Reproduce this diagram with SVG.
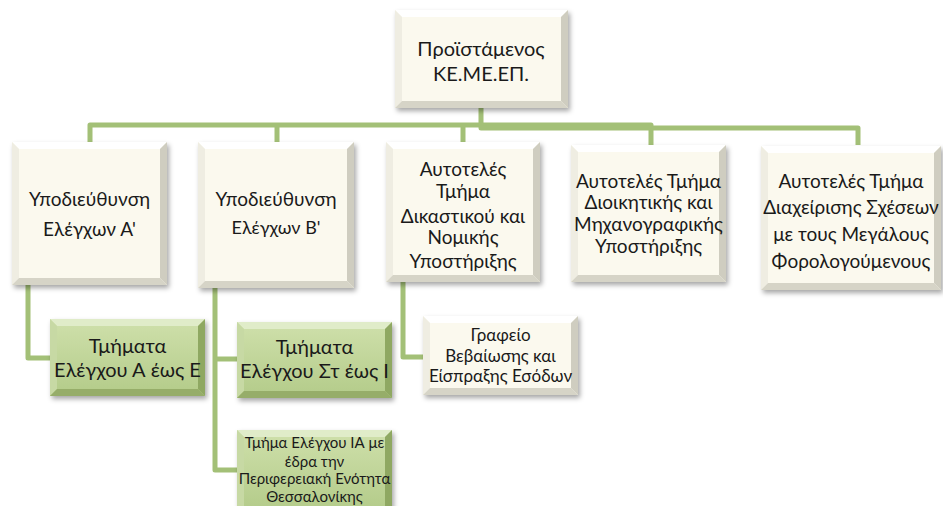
<svg xmlns="http://www.w3.org/2000/svg" width="943" height="506" viewBox="0 0 943 506">
<defs>
<filter id="sh" x="-20%" y="-20%" width="140%" height="140%">
<feDropShadow dx="2" dy="3" stdDeviation="2.5" flood-color="#000" flood-opacity="0.35"/>
</filter>
<linearGradient id="gg" x1="0" y1="0" x2="0" y2="1">
<stop offset="0" stop-color="#cfe0ab"/>
<stop offset="1" stop-color="#b3cb89"/>
</linearGradient>
<style>
.conn{fill:none;stroke:#a3c077;stroke-width:5;stroke-linejoin:round}
.cf{fill:#fbf9ee}
.gf{fill:url(#gg)}
.ct{fill:#ffffff}
.cl{fill:#efede2}
.cr{fill:#cfcdc0}
.cb{fill:#d6d4c7}
.gt{fill:#e0ecc9}
.gl{fill:#c7d9a4}
.gr{fill:#8fa862}
.gb{fill:#96ad69}
text{font-family:Lato,"Noto Sans",sans-serif;fill:#1a1a1a;text-anchor:middle}
.f18{font-size:20px}
.f17{font-size:19px}
.f16{font-size:18px}
.f19{font-size:19px}
.f20{font-size:20px}
.f14{font-size:17px}
.f12{font-size:15px}
</style>
</defs>
<g id="connectors">
<path class="conn" d="M90,142 V125 H651 V145"/>
<path class="conn" d="M481,108 V128 H858 V145"/>
<path class="conn" d="M277,125 V142"/>
<path class="conn" d="M463,125 V142"/>
<path class="conn" d="M28,285 V358 H50"/>
<path class="conn" d="M215,288 V470 H237"/>
<path class="conn" d="M215,359 H237"/>
<path class="conn" d="M403,282 V357 H423"/>
</g>
<g id="n0">
<rect class="cf" x="395" y="10" width="173" height="98" filter="url(#sh)"/>
<polygon class="ct" points="395,10 568,10 561,17 402,17"/>
<polygon class="cl" points="395,10 402,17 402,101 395,108"/>
<polygon class="cr" points="568,10 568,108 561,101 561,17"/>
<polygon class="cb" points="395,108 568,108 561,101 402,101"/>
<text class="f18" x="481" y="56">Προϊστάμενος</text>
<text class="f18" x="481" y="81">ΚΕ.ΜΕ.ΕΠ.</text>
</g>
<g id="n1">
<rect class="cf" x="12" y="142" width="155" height="143" filter="url(#sh)"/>
<polygon class="ct" points="12,142 167,142 160,149 19,149"/>
<polygon class="cl" points="12,142 19,149 19,278 12,285"/>
<polygon class="cr" points="167,142 167,285 160,278 160,149"/>
<polygon class="cb" points="12,285 167,285 160,278 19,278"/>
<text class="f17" x="89.5" y="206">Υποδιεύθυνση</text>
<text class="f17" x="89.5" y="236">Ελέγχων Α'</text>
</g>
<g id="n2">
<rect class="cf" x="198" y="142" width="156" height="146" filter="url(#sh)"/>
<polygon class="ct" points="198,142 354,142 347,149 205,149"/>
<polygon class="cl" points="198,142 205,149 205,281 198,288"/>
<polygon class="cr" points="354,142 354,288 347,281 347,149"/>
<polygon class="cb" points="198,288 354,288 347,281 205,281"/>
<text class="f17" x="276" y="206">Υποδιεύθυνση</text>
<text class="f16" x="276" y="234">Ελέγχων Β'</text>
</g>
<g id="n3">
<rect class="cf" x="386" y="142" width="154" height="140" filter="url(#sh)"/>
<polygon class="ct" points="386,142 540,142 533,149 393,149"/>
<polygon class="cl" points="386,142 393,149 393,275 386,282"/>
<polygon class="cr" points="540,142 540,282 533,275 533,149"/>
<polygon class="cb" points="386,282 540,282 533,275 393,275"/>
<text class="f17" x="463" y="176">Αυτοτελές</text>
<text class="f17" x="463" y="198">Τμήμα</text>
<text class="f17" x="463" y="223">Δικαστικού και</text>
<text class="f17" x="463" y="244">Νομικής</text>
<text class="f17" x="463" y="268">Υποστήριξης</text>
</g>
<g id="n4">
<rect class="cf" x="571" y="145" width="155" height="137" filter="url(#sh)"/>
<polygon class="ct" points="571,145 726,145 719,152 578,152"/>
<polygon class="cl" points="571,145 578,152 578,275 571,282"/>
<polygon class="cr" points="726,145 726,282 719,275 719,152"/>
<polygon class="cb" points="571,282 726,282 719,275 578,275"/>
<text class="f19" x="648.5" y="188">Αυτοτελές Τμήμα</text>
<text class="f19" x="648.5" y="209">Διοικητικής και</text>
<text class="f19" x="648.5" y="231">Μηχανογραφικής</text>
<text class="f19" x="648.5" y="253">Υποστήριξης</text>
</g>
<g id="n5">
<rect class="cf" x="761" y="146" width="180" height="144" filter="url(#sh)"/>
<polygon class="ct" points="761,146 941,146 934,153 768,153"/>
<polygon class="cl" points="761,146 768,153 768,283 761,290"/>
<polygon class="cr" points="941,146 941,290 934,283 934,153"/>
<polygon class="cb" points="761,290 941,290 934,283 768,283"/>
<text class="f17" x="851" y="188">Αυτοτελές Τμήμα</text>
<text class="f17" x="851" y="214">Διαχείρισης Σχέσεων</text>
<text class="f17" x="851" y="241">με τους Μεγάλους</text>
<text class="f17" x="851" y="268">Φορολογούμενους</text>
</g>
<g id="g1">
<rect class="gf" x="50" y="319" width="155" height="77" filter="url(#sh)"/>
<polygon class="gt" points="50,319 205,319 198,326 57,326"/>
<polygon class="gl" points="50,319 57,326 57,389 50,396"/>
<polygon class="gr" points="205,319 205,396 198,389 198,326"/>
<polygon class="gb" points="50,396 205,396 198,389 57,389"/>
<text class="f20" x="127.5" y="353">Τμήματα</text>
<text class="f20" x="127.5" y="377">Ελέγχου Α έως Ε</text>
</g>
<g id="g2">
<rect class="gf" x="237" y="322" width="155" height="76" filter="url(#sh)"/>
<polygon class="gt" points="237,322 392,322 385,329 244,329"/>
<polygon class="gl" points="237,322 244,329 244,391 237,398"/>
<polygon class="gr" points="392,322 392,398 385,391 385,329"/>
<polygon class="gb" points="237,398 392,398 385,391 244,391"/>
<text class="f20" x="314.5" y="354">Τμήματα</text>
<text class="f20" x="314.5" y="378">Ελέγχου Στ έως Ι</text>
</g>
<g id="g3">
<rect class="gf" x="237" y="430" width="155" height="82" filter="url(#sh)"/>
<polygon class="gt" points="237,430 392,430 385,437 244,437"/>
<polygon class="gl" points="237,430 244,437 244,512 237,512"/>
<polygon class="gr" points="392,430 392,512 385,512 385,437"/>
<text class="f12" x="314.5" y="448">Τμήμα Ελέγχου ΙΑ με</text>
<text class="f12" x="314.5" y="467">έδρα την</text>
<text class="f12" x="314.5" y="484">Περιφερειακή Ενότητα</text>
<text class="f12" x="314.5" y="502">Θεσσαλονίκης</text>
</g>
<g id="c1">
<rect class="cf" x="423" y="316" width="155" height="79" filter="url(#sh)"/>
<polygon class="ct" points="423,316 578,316 571,323 430,323"/>
<polygon class="cl" points="423,316 430,323 430,388 423,395"/>
<polygon class="cr" points="578,316 578,395 571,388 571,323"/>
<polygon class="cb" points="423,395 578,395 571,388 430,388"/>
<text class="f14" x="500.5" y="341">Γραφείο</text>
<text class="f14" x="500.5" y="362">Βεβαίωσης και</text>
<text class="f14" x="500.5" y="382">Είσπραξης Εσόδων</text>
</g>
</svg>
